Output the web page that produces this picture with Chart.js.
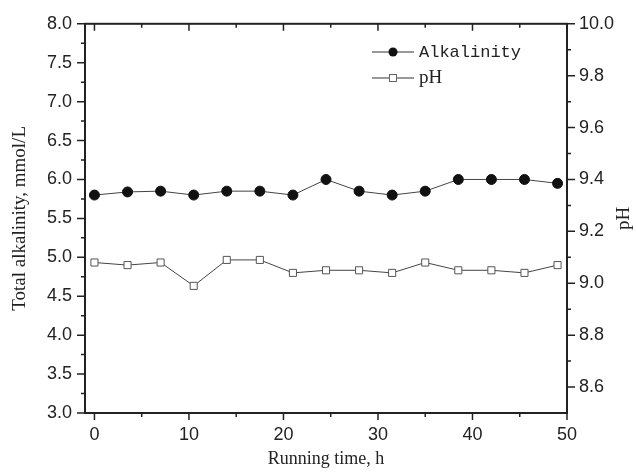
<!DOCTYPE html>
<html>
<head>
<meta charset="utf-8">
<script src="https://cdn.jsdelivr.net/npm/chart.js@4"></script>
<style>
  html, body { margin: 0; padding: 0; background: #fff; }
  #wrap { width: 636px; height: 472px; }
</style>
</head>
<body>
<div id="wrap"><canvas id="chart" width="636" height="472"></canvas></div>
<script>
// running time, h
const hours = [0, 3.5, 7, 10.5, 14, 17.5, 21, 24.5, 28, 31.5, 35, 38.5, 42, 45.5, 49];
// total alkalinity, mmol/L (left axis)
const alkalinity = [5.80, 5.84, 5.85, 5.80, 5.85, 5.85, 5.80, 6.00, 5.85, 5.80, 5.85, 6.00, 6.00, 6.00, 5.95];
// pH (right axis)
const ph = [9.08, 9.07, 9.08, 8.99, 9.09, 9.09, 9.04, 9.05, 9.05, 9.04, 9.08, 9.05, 9.05, 9.04, 9.07];

const xTicks = [0, 10, 20, 30, 40, 50];
const xMinor = [5, 15, 25, 35, 45];
const leftTicks = [3.0, 3.5, 4.0, 4.5, 5.0, 5.5, 6.0, 6.5, 7.0, 7.5, 8.0];
const leftMinor = [3.25, 3.75, 4.25, 4.75, 5.25, 5.75, 6.25, 6.75, 7.25, 7.75];
const rightTicks = [8.6, 8.8, 9.0, 9.2, 9.4, 9.6, 9.8, 10.0];
const rightMinor = [8.7, 8.9, 9.1, 9.3, 9.5, 9.7, 9.9];

const INK = "#222";
const tickFont = { family: "'Liberation Sans', Arial, sans-serif", size: 18 };

const toPoints = (xs, ys) => xs.map((x, i) => ({ x: x, y: ys[i] }));

// frame, tick marks, legend and the right title
const decor = {
    id: "decor",
    beforeDatasetsDraw(chart) {
        const ctx = chart.ctx;
        const a = chart.chartArea;
        const sx = chart.scales.x, sy = chart.scales.y, sr = chart.scales.y1;
        ctx.save();
        ctx.strokeStyle = INK;
        ctx.lineWidth = 2;
        ctx.strokeRect(a.left, a.top, a.right - a.left, a.bottom - a.top);
        ctx.lineWidth = 1.5;
        ctx.beginPath();
        const mark = (x1, y1, x2, y2) => { ctx.moveTo(x1, y1); ctx.lineTo(x2, y2); };
        xTicks.forEach(v => {
            const p = sx.getPixelForValue(v);
            mark(p, a.bottom, p, a.bottom + 7);
            mark(p, a.top, p, a.top + 7);
        });
        xMinor.forEach(v => {
            const p = sx.getPixelForValue(v);
            mark(p, a.bottom, p, a.bottom + 4);
            mark(p, a.top, p, a.top + 4);
        });
        leftTicks.forEach(v => { const p = sy.getPixelForValue(v); mark(a.left - 8, p, a.left, p); });
        leftMinor.forEach(v => { const p = sy.getPixelForValue(v); mark(a.left - 4, p, a.left, p); });
        rightTicks.forEach(v => { const p = sr.getPixelForValue(v); mark(a.right, p, a.right + 8, p); });
        rightMinor.forEach(v => { const p = sr.getPixelForValue(v); mark(a.right, p, a.right + 4, p); });
        ctx.stroke();
        ctx.restore();
    },
    afterDraw(chart) {
        const ctx = chart.ctx;
        const a = chart.chartArea;
        ctx.save();
        // right axis title, reading bottom to top
        ctx.fillStyle = INK;
        ctx.font = "19px 'Liberation Serif', 'Times New Roman', serif";
        ctx.textAlign = "center";
        ctx.textBaseline = "middle";
        ctx.translate(624, (a.top + a.bottom) / 2);
        ctx.rotate(-Math.PI / 2);
        ctx.fillText("pH", 0, 0);
        ctx.restore();

        // legend
        ctx.save();
        const lx = 372, rows = [52, 78];
        ctx.strokeStyle = "#333";
        ctx.lineWidth = 1;
        rows.forEach(y => {
            ctx.beginPath();
            ctx.moveTo(lx, y); ctx.lineTo(lx + 42, y);
            ctx.stroke();
        });
        ctx.fillStyle = "#111";
        ctx.beginPath();
        ctx.arc(lx + 21, rows[0], 4.5, 0, Math.PI * 2);
        ctx.fill();
        ctx.fillStyle = "#fff";
        ctx.strokeStyle = "#666";
        ctx.fillRect(lx + 17.5, rows[1] - 3.5, 7, 7);
        ctx.strokeRect(lx + 17.5, rows[1] - 3.5, 7, 7);
        ctx.fillStyle = INK;
        ctx.textAlign = "left";
        ctx.textBaseline = "middle";
        ctx.font = "17px 'Liberation Mono', 'DejaVu Sans Mono', monospace";
        ctx.fillText("Alkalinity", lx + 47, rows[0]);
        ctx.font = "19px 'Liberation Serif', 'Times New Roman', serif";
        ctx.fillText("pH", lx + 47, rows[1]);
        ctx.restore();
    }
};

new Chart(document.getElementById("chart"), {
    type: "line",
    data: {
        datasets: [
            {
                label: "Alkalinity",
                data: toPoints(hours, alkalinity),
                yAxisID: "y",
                borderColor: "#444",
                borderWidth: 1,
                pointStyle: "circle",
                pointRadius: 5,
                pointBackgroundColor: "#111",
                pointBorderColor: "#111",
                tension: 0
            },
            {
                label: "pH",
                data: toPoints(hours, ph),
                yAxisID: "y1",
                borderColor: "#444",
                borderWidth: 1,
                pointStyle: "rect",
                pointRadius: 5,
                pointBackgroundColor: "#fff",
                pointBorderColor: "#555",
                pointBorderWidth: 1,
                tension: 0
            }
        ]
    },
    options: {
        responsive: false,
        animation: false,
        layout: { padding: { top: 23, left: 0, right: 0, bottom: 0 } },
        plugins: {
            legend: { display: false },
            tooltip: { enabled: false }
        },
        scales: {
            x: {
                type: "linear",
                position: "bottom",
                min: -1,
                max: 50,
                afterBuildTicks: s => { s.ticks = xTicks.map(v => ({ value: v })); },
                afterFit: s => { s.height = 59; },
                grid: { display: false, drawTicks: false },
                border: { display: false },
                ticks: { color: INK, font: tickFont, padding: 11, maxRotation: 0 },
                title: {
                    display: true,
                    text: "Running time, h",
                    color: INK,
                    font: { family: "'Liberation Serif', 'Times New Roman', serif", size: 18 },
                    padding: { top: 0, bottom: 2 }
                }
            },
            y: {
                position: "left",
                min: 3,
                max: 8,
                afterBuildTicks: s => { s.ticks = leftTicks.map(v => ({ value: v })); },
                afterFit: s => { s.width = 85; },
                grid: { display: false, drawTicks: false },
                border: { display: false },
                ticks: { color: INK, font: tickFont, padding: 13, callback: v => v.toFixed(1) },
                title: {
                    display: true,
                    text: "Total alkalinity, mmol/L",
                    color: INK,
                    font: { family: "'Liberation Serif', 'Times New Roman', serif", size: 19 },
                    padding: { top: 9, bottom: 0 }
                }
            },
            y1: {
                position: "right",
                min: 8.5,
                max: 10.0,
                afterBuildTicks: s => { s.ticks = rightTicks.map(v => ({ value: v })); },
                afterFit: s => { s.width = 69; },
                grid: { display: false, drawTicks: false },
                border: { display: false },
                ticks: { color: INK, font: tickFont, padding: 12, callback: v => v.toFixed(1) }
            }
        }
    },
    plugins: [decor]
});
</script>
</body>
</html>
